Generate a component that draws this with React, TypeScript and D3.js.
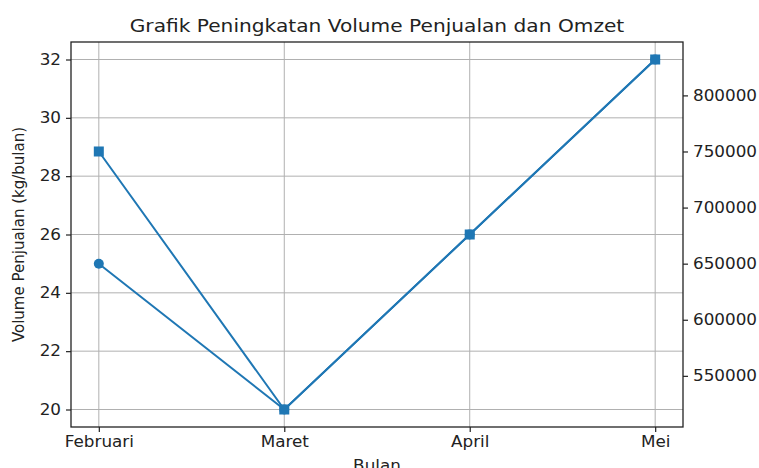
import React, { useRef, useEffect } from "react";
import * as d3 from "d3";

const bulan = ["Februari", "Maret", "April", "Mei"];
const volume = [25, 20, 26, 32];
const omzet = [750000, 520000, 676000, 832000];
const volumeTicks = [20, 22, 24, 26, 28, 30, 32];
const omzetTicks = [550000, 600000, 650000, 700000, 750000, 800000];

const W = 759;
const H = 468;
const m = { left: 71, right: 76, top: 42, bottom: 41 };
const blue = "#1f77b4";
const font = "DejaVu Sans, sans-serif";
const stretchX = 1.12;

// the reference text looks a bit wider than normal, so scale it horizontally around its anchor
function stretch(sel: any) {
  sel.each(function (this: any) {
    const x = +(this.getAttribute("x") || 0);
    const t = this.getAttribute("transform") || "";
    this.setAttribute(
      "transform",
      `${t} translate(${x},0) scale(${stretchX},1) translate(${-x},0)`
    );
  });
}

function App() {
  const svgRef = useRef<any>();

  useEffect(() => {
    const svg = d3.select(svgRef.current);
    svg.selectAll("*").remove();

    const iw = W - m.left - m.right;
    const ih = H - m.top - m.bottom;

    const x = d3.scaleLinear().domain([-0.15, bulan.length - 1 + 0.15]).range([0, iw]);
    const vMin = d3.min(volume)!, vMax = d3.max(volume)!;
    const vPad = (vMax - vMin) * 0.05;
    const yL = d3.scaleLinear().domain([vMin - vPad, vMax + vPad]).range([ih, 0]);
    const oMin = d3.min(omzet)!, oMax = d3.max(omzet)!;
    const oPad = (oMax - oMin) * 0.05;
    const yR = d3.scaleLinear().domain([oMin - oPad, oMax + oPad]).range([ih, 0]);

    const g = svg.append("g").attr("transform", `translate(${m.left},${m.top})`);

    // grid
    g.append("g")
      .selectAll("line")
      .data(bulan)
      .join("line")
      .attr("x1", (d, i) => x(i))
      .attr("x2", (d, i) => x(i))
      .attr("y1", 0)
      .attr("y2", ih)
      .attr("stroke", "#b0b0b0")
      .attr("stroke-width", 1);
    g.append("g")
      .selectAll("line")
      .data(volumeTicks)
      .join("line")
      .attr("x1", 0)
      .attr("x2", iw)
      .attr("y1", (d) => yL(d))
      .attr("y2", (d) => yL(d))
      .attr("stroke", "#b0b0b0")
      .attr("stroke-width", 1);

    // axes
    const xAxis = d3
      .axisBottom(x)
      .tickValues(bulan.map((d, i) => i))
      .tickFormat((d: any) => bulan[d])
      .tickSize(5)
      .tickPadding(4);
    const ax = g.append("g").attr("transform", `translate(0,${ih})`).call(xAxis);

    const leftAxis = d3.axisLeft(yL).tickValues(volumeTicks).tickSize(5).tickPadding(5);
    const al = g.append("g").call(leftAxis);

    const rightAxis = d3
      .axisRight(yR)
      .tickValues(omzetTicks)
      .tickFormat(d3.format("d"))
      .tickSize(5)
      .tickPadding(5);
    const ar = g.append("g").attr("transform", `translate(${iw},0)`).call(rightAxis);

    [ax, al, ar].forEach((a) => {
      a.select(".domain").remove();
      a.selectAll("line").attr("stroke", "#222").attr("stroke-width", 1.2);
      a.selectAll("text")
        .attr("font-family", font)
        .attr("font-size", 15)
        .attr("fill", "#222")
        .call(stretch);
    });

    // spines
    g.append("rect")
      .attr("width", iw)
      .attr("height", ih)
      .attr("fill", "none")
      .attr("stroke", "#222")
      .attr("stroke-width", 1.3);

    // volume line (circles)
    const lineL = d3
      .line<number>()
      .x((d, i) => x(i))
      .y((d) => yL(d));
    g.append("path")
      .datum(volume)
      .attr("d", lineL)
      .attr("fill", "none")
      .attr("stroke", blue)
      .attr("stroke-width", 2);
    g.selectAll("circle.v")
      .data(volume)
      .join("circle")
      .attr("cx", (d, i) => x(i))
      .attr("cy", (d) => yL(d))
      .attr("r", 5)
      .attr("fill", blue);

    // omzet line (squares)
    const lineR = d3
      .line<number>()
      .x((d, i) => x(i))
      .y((d) => yR(d));
    g.append("path")
      .datum(omzet)
      .attr("d", lineR)
      .attr("fill", "none")
      .attr("stroke", blue)
      .attr("stroke-width", 2);
    g.selectAll("rect.o")
      .data(omzet)
      .join("rect")
      .attr("x", (d, i) => x(i) - 5)
      .attr("y", (d) => yR(d) - 5)
      .attr("width", 10)
      .attr("height", 10)
      .attr("fill", blue);

    // labels
    svg
      .append("text")
      .attr("x", m.left + iw / 2)
      .attr("y", 32)
      .attr("text-anchor", "middle")
      .attr("font-family", font)
      .attr("font-size", 18)
      .attr("fill", "#222")
      .text("Grafik Peningkatan Volume Penjualan dan Omzet")
      .call(stretch);
    svg
      .append("text")
      .attr("x", m.left + iw / 2)
      .attr("y", 471)
      .attr("text-anchor", "middle")
      .attr("font-family", font)
      .attr("font-size", 15)
      .attr("fill", "#222")
      .text("Bulan")
      .call(stretch);
    svg
      .append("text")
      .attr("transform", `translate(24,${m.top + ih / 2}) rotate(-90)`)
      .attr("text-anchor", "middle")
      .attr("font-family", font)
      .attr("font-size", 15)
      .attr("fill", "#222")
      .text("Volume Penjualan (kg/bulan)");
  }, []);

  return (
    <svg
      ref={svgRef}
      width={W}
      height={H}
      style={{ position: "absolute", left: 0, top: 0, background: "#fff" }}
    />
  );
}

export default App;
